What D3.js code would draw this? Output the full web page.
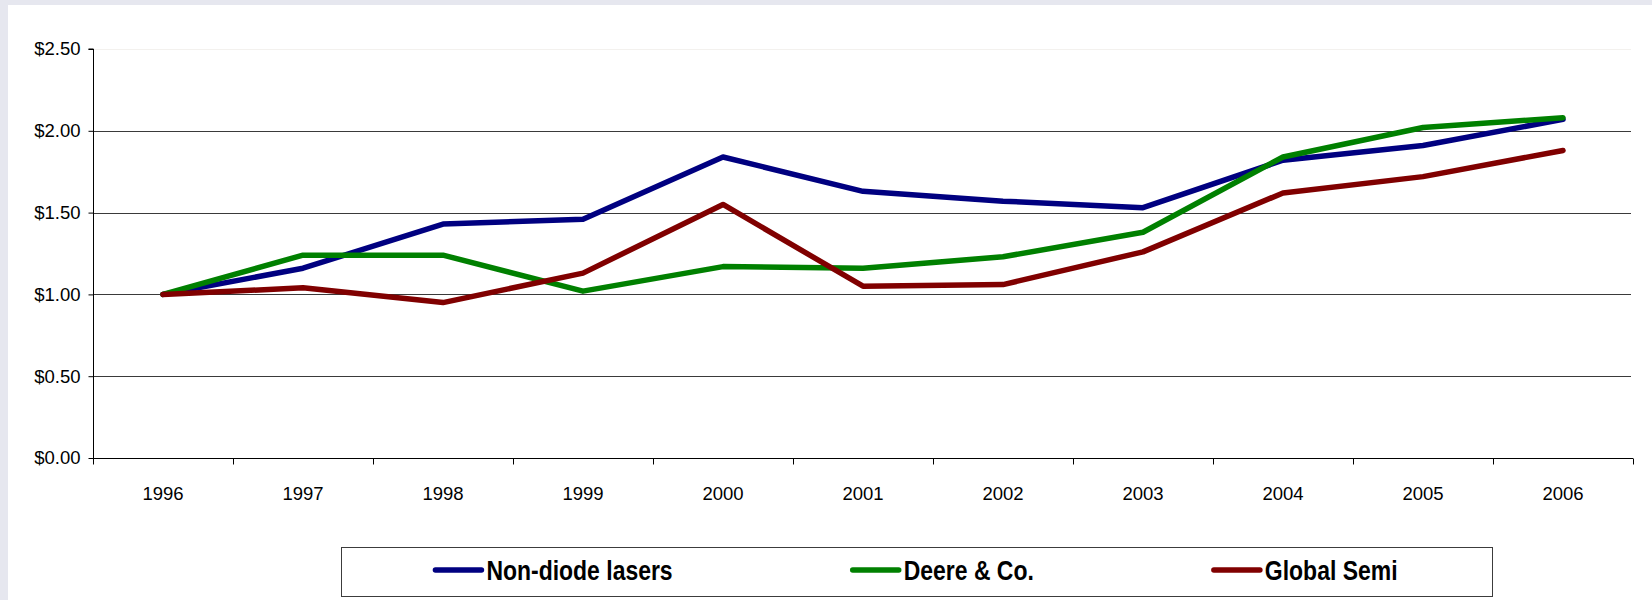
<!DOCTYPE html>
<html>
<head>
<meta charset="utf-8">
<script src="https://cdn.jsdelivr.net/npm/d3@7"></script>
<style>
  html, body { margin: 0; padding: 0; background: #e6e7ef; }
  svg { display: block; }
  text { font-family: "Liberation Sans", Arial, sans-serif; }
</style>
</head>
<body>
<svg id="chart" width="1652" height="600"></svg>
<script>
// Growth of $1 invested, 1996–2006
const years = ["1996","1997","1998","1999","2000","2001","2002","2003","2004","2005","2006"];
const nonDiode = [1.00, 1.16, 1.43, 1.46, 1.84, 1.63, 1.57, 1.53, 1.82, 1.91, 2.07];
const deere    = [1.00, 1.24, 1.24, 1.02, 1.17, 1.16, 1.23, 1.38, 1.84, 2.02, 2.08];
const globalSemi = [1.00, 1.04, 0.95, 1.13, 1.55, 1.05, 1.06, 1.26, 1.62, 1.72, 1.88];
const seriesNames = ["Non-diode lasers", "Deere & Co.", "Global Semi"];
const yTicks = [0, 0.5, 1.0, 1.5, 2.0, 2.5];

const colors = ["#000080", "#008000", "#800000"];
const series = [nonDiode, deere, globalSemi].map((vals, i) => ({
  name: seriesNames[i], color: colors[i],
  points: vals.map((v, j) => ({ year: years[j], value: v }))
}));

const svg = d3.select("#chart");

// slide backdrop and white chart panel
svg.append("rect").attr("x", 0).attr("y", 0).attr("width", 1652).attr("height", 600).attr("fill", "#e6e7ef");
svg.append("rect").attr("x", 8).attr("y", 5).attr("width", 1644).attr("height", 595).attr("fill", "#ffffff");

const plotL = 93, plotR = 1633, plotT = 49, plotB = 458;
const x = d3.scaleBand().domain(years).range([plotL, plotR]).padding(0);
const y = d3.scaleLinear().domain([0, 2.5]).range([plotB, plotT]);
const cx = d => x(d) + x.bandwidth() / 2;

// horizontal gridlines
svg.append("g").selectAll("line").data(yTicks.filter(t => t > 0)).join("line")
  .attr("x1", plotL).attr("x2", plotR - 2)
  .attr("y1", d => Math.round(y(d)) + 0.5).attr("y2", d => Math.round(y(d)) + 0.5)
  .attr("stroke", d => d === 2.5 ? "#f3f1ee" : "#3a3a3a")
  .attr("stroke-width", 1);

// y axis
const yAxis = d3.axisLeft(y).tickValues(yTicks).tickFormat(d3.format("$.2f")).tickSize(5).tickPadding(8);
const gy = svg.append("g").attr("transform", `translate(${plotL + 0.5},0)`).call(yAxis);
gy.select(".domain").attr("stroke", "#000").attr("d", `M-5,${y(2.5)}H0V${y(0)}`);
gy.selectAll(".tick line").attr("stroke", "#000");
gy.selectAll(".tick text").attr("font-size", 18.5).attr("fill", "#000")
  .attr("font-family", "'Liberation Sans', Arial, sans-serif");

// x axis with ticks between categories
const gx = svg.append("g").attr("transform", `translate(0,${plotB + 0.5})`);
gx.append("line").attr("x1", plotL).attr("x2", plotR).attr("y1", 0).attr("y2", 0).attr("stroke", "#000");
const boundaries = years.map(d => x(d)).concat([x(years[years.length - 1]) + x.bandwidth()]);
gx.selectAll("line.tk").data(boundaries).join("line").attr("class", "tk")
  .attr("x1", d => Math.round(d) + 0.5).attr("x2", d => Math.round(d) + 0.5)
  .attr("y1", 0).attr("y2", 6).attr("stroke", "#000");
gx.selectAll("text").data(years).join("text")
  .attr("x", d => cx(d)).attr("y", 41)
  .attr("text-anchor", "middle").attr("font-size", 18.5).attr("fill", "#000")
  .text(d => d);

// series lines
const line = d3.line().x(d => cx(d.year)).y(d => y(d.value));
svg.append("g").selectAll("path").data(series).join("path")
  .attr("d", d => line(d.points))
  .attr("fill", "none")
  .attr("stroke", d => d.color)
  .attr("stroke-width", 5.5)
  .attr("stroke-linejoin", "round")
  .attr("stroke-linecap", "round");

// legend
const lgX = 341, lgY = 547, lgW = 1151, lgH = 49;
const lg = svg.append("g");
lg.append("rect").attr("x", lgX + 0.5).attr("y", lgY + 0.5).attr("width", lgW).attr("height", lgH)
  .attr("fill", "#fff").attr("stroke", "#3c3c3c").attr("stroke-width", 1);

const narrow = 0.82, swatch = 46, swGap = 5, itemGap = 180;
const items = lg.selectAll("g.item").data(series).join("g").attr("class", "item");
items.append("text")
  .attr("font-size", 28).attr("font-weight", "bold").attr("fill", "#000")
  .text(d => d.name);
const widths = [];
items.select("text").each(function () { widths.push(this.getComputedTextLength() * narrow); });
const total = d3.sum(widths) + series.length * (swatch + swGap) + itemGap * (series.length - 1);
let cur = lgX + (lgW - total) / 2;
items.each(function (d, i) {
  const g = d3.select(this);
  g.append("line").attr("x1", cur).attr("x2", cur + swatch)
    .attr("y1", 570).attr("y2", 570)
    .attr("stroke", d.color).attr("stroke-width", 5.5).attr("stroke-linecap", "round");
  g.select("text").attr("transform", `translate(${cur + swatch + swGap},580) scale(${narrow},1)`);
  cur += swatch + swGap + widths[i] + itemGap;
});
</script>
</body>
</html>
